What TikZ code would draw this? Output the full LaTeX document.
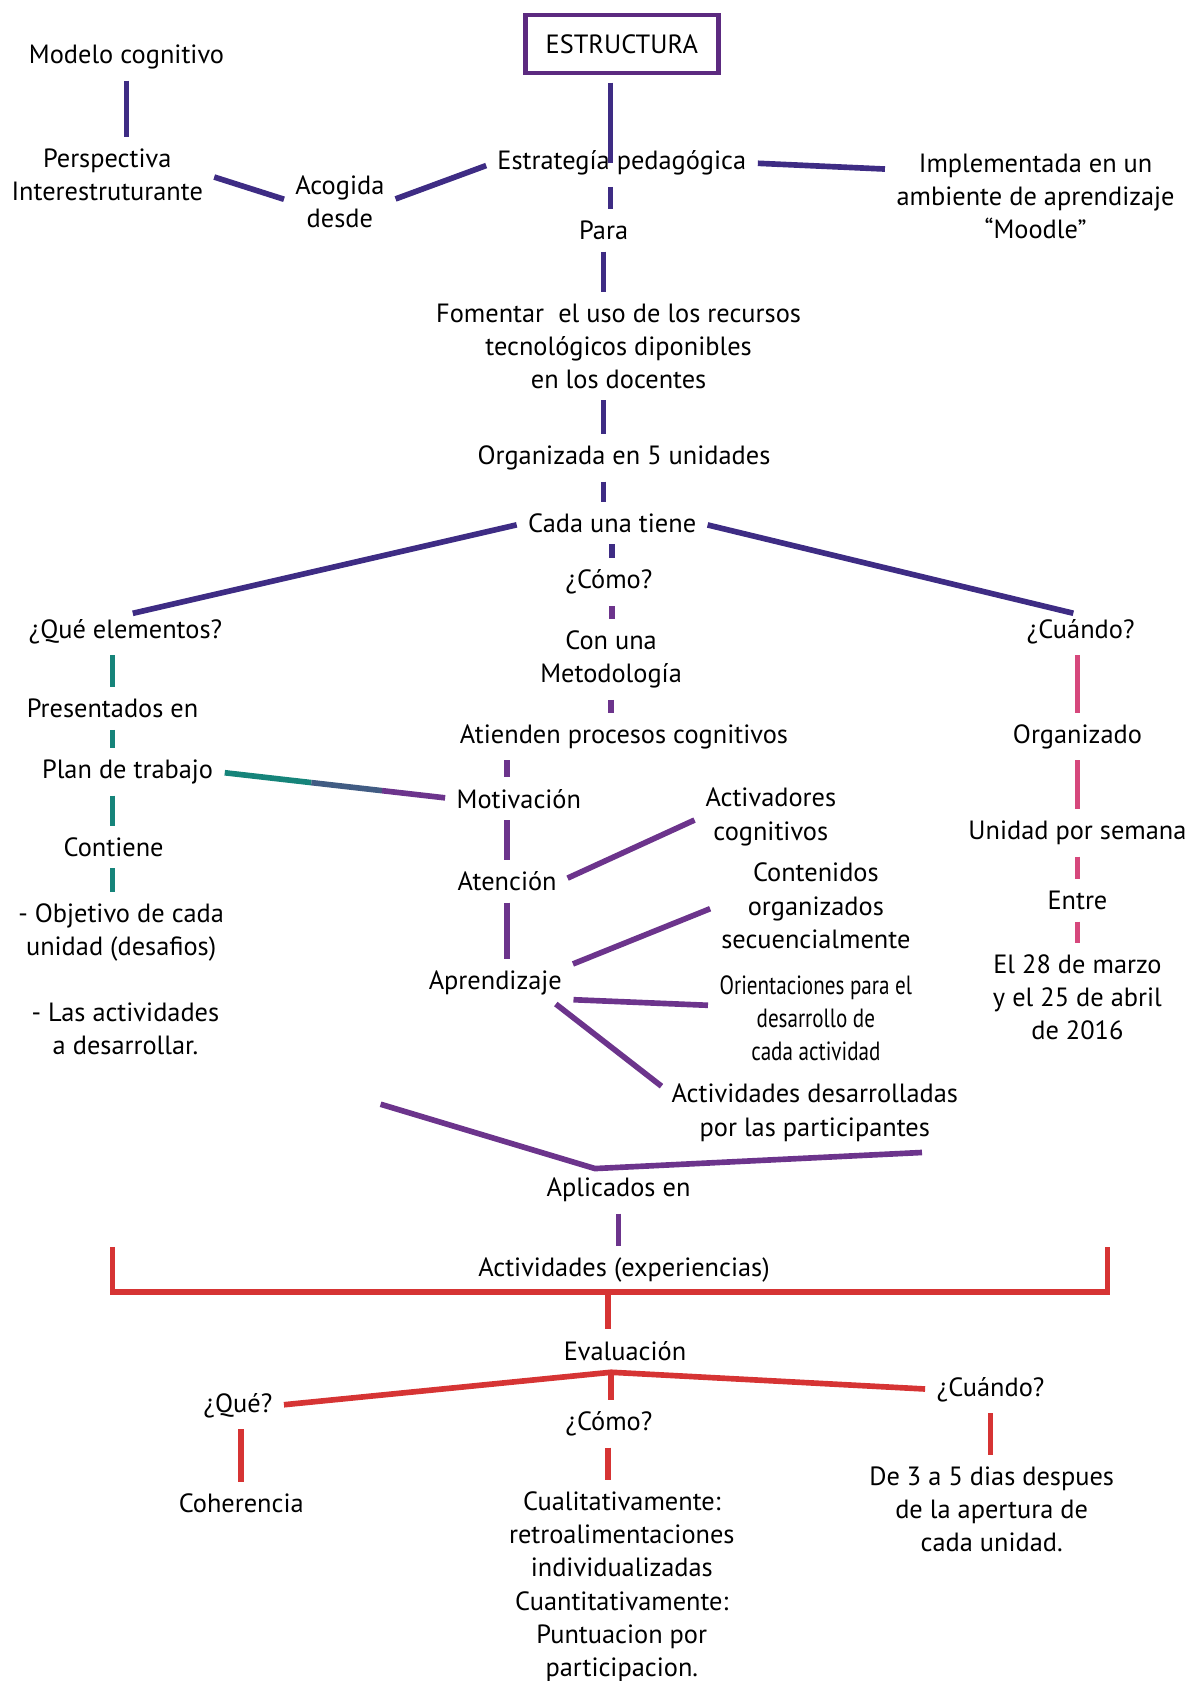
\documentclass[tikz,border=0pt]{standalone}
\usepackage{fontspec}
\setmainfont{PT Sans}
\usepackage{graphicx}
\usetikzlibrary{calc}

\definecolor{indigoln}{RGB}{62,44,132}
\definecolor{violetln}{RGB}{108,52,140}
\definecolor{tealln}{RGB}{22,132,122}
\definecolor{pinkln}{RGB}{214,72,124}
\definecolor{redln}{RGB}{214,52,52}
\definecolor{boxpurple}{RGB}{92,42,128}

\def\cond#1{\scalebox{0.8}[1]{#1}}

\begin{document}
\begin{tikzpicture}[x=0.02cm,y=-0.02cm,
			txt/.style={align=center,inner sep=2pt,font=\fontsize{14}{17.6}\selectfont},
			titlebox/.style={txt,draw=boxpurple,line width=2.4pt,minimum width=3.6cm,minimum height=1.08cm},
			ln/.style={line width=3pt,shorten <=4pt,shorten >=4pt},
			lnIndigo/.style={ln,draw=indigoln},
			lnViolet/.style={ln,draw=violetln},
			lnTeal/.style={ln,draw=tealln},
			lnPink/.style={ln,draw=pinkln},
			lnRed/.style={ln,draw=redln}]
			\useasboundingbox (0,0) rectangle (1115,1568);
			% upper part
			\node [titlebox] (estructura) at (580,41) {ESTRUCTURA};
			\node [txt] (modelo) at (118,53) {Modelo cognitivo};
			\node [txt] (perspectiva) at (100,163) {Perspectiva\\Interestruturante};
			\node [txt] (acogida) at (317,188) {Acogida\\desde};
			\node [txt] (estrategia) at (580,152) {Estrategía pedagógica};
			\node [txt] (implementada) at (966,183) {Implementada en un\\ambiente de aprendizaje\\“Moodle”};
			\node [txt] (para) at (563,215) {Para};
			\node [txt] (fomentar) at (577,323) {Fomentar\ \ el uso de los recursos\\tecnológicos diponibles\\en los docentes};
			\node [txt] (organizada) at (582,427) {Organizada en 5 unidades};
			\node [txt] (cada) at (571,488) {Cada una tiene};
			% middle column
			\node [txt] (como) at (568,543) {¿Cómo?};
			\node [txt] (conuna) at (570,615) {Con una\\Metodología};
			\node [txt] (atienden) at (582,687) {Atienden procesos cognitivos};
			\node [txt] (motivacion) at (484,745) {Motivación};
			\node [txt] (atencion) at (473,822) {Atención};
			\node [txt] (aprendizaje) at (462,917) {Aprendizaje};
			\node [txt] (activadores) at (719,762) {Activadores\\cognitivos};
			\node [txt] (contenidos) at (761,845) {Contenidos\\organizados\\secuencialmente};
			\node [txt] (orientaciones) at (761,950) {\cond{Orientaciones para el}\\\cond{desarrollo de}\\\cond{cada actividad}};
			\node [txt] (actdes) at (760,1038) {Actividades desarrolladas\\por las participantes};
			\node [txt] (aplicados) at (577,1110) {Aplicados en};
			\node [txt] (actexp) at (582,1185) {Actividades (experiencias)};
			% right column
			\node [txt] (cuando) at (1008,589) {¿Cuándo?};
			\node [txt] (organizado) at (1005,687) {Organizado};
			\node [txt] (unidad) at (1005,777) {Unidad por semana};
			\node [txt] (entre) at (1005,840) {Entre};
			\node [txt] (fechas) at (1005,930) {El 28 de marzo\\y el 25 de abril\\de 2016};
			% left column
			\node [txt] (queelem) at (117,589) {¿Qué elementos?};
			\node [txt] (presentados) at (105,661) {Presentados en};
			\node [txt] (plan) at (119,720) {Plan de trabajo};
			\node [txt] (contiene) at (106,790) {Contiene};
			\node [txt] (objetivo) at (113,870) {- Objetivo de cada\\unidad (desafios)};
			\node [txt] (lasact) at (117,960) {- Las actividades\\a desarrollar.};
			% evaluation
			\node [txt] (evaluacion) at (583,1260) {Evaluación};
			\node [txt] (que) at (222,1311) {¿Qué?};
			\node [txt] (coherencia) at (225,1402) {Coherencia};
			\node [txt] (comoev) at (568,1328) {¿Cómo?};
			\node [txt] (cualit) at (580,1480) {Cualitativamente:\\retroalimentaciones\\individualizadas\\Cuantitativamente:\\Puntuacion por\\participacion.};
			\node [txt] (cuandoev) at (924,1296) {¿Cuándo?};
			\node [txt] (dias) at (925,1408) {De 3 a 5 dias despues\\de la apertura de\\cada unidad.};
			\coordinate (vleft) at (355,1030);
			\coordinate (vtip) at (555,1090);
			\coordinate (vright) at (860,1075);
			\coordinate (brTL) at (105,1163);
			\coordinate (brTR) at (1033,1163);
			\coordinate (brBot) at (567,1205);
			\coordinate (evtip) at (570,1280);
			% connectors, upper part
			\draw [lnIndigo,shorten >=0pt] ([xshift=-6pt]estructura.south) -- ([xshift=-6pt]estructura.south |- estrategia.center);
			\draw [lnIndigo] (modelo.south) -- (modelo.south |- perspectiva.north);
			\draw [lnIndigo] (perspectiva.east) -- (acogida.west);
			\draw [lnIndigo] (acogida.east) -- (estrategia.west);
			\draw [lnIndigo] (estrategia.east) -- ($(implementada.west)+(0,-25)$);
			\draw [lnIndigo] (para.north -| estructura.south) ++(-6pt,0) coordinate (pp) (pp |- estrategia.south) -- (pp);
			\draw [lnIndigo] (para.south) -- (para.south |- fomentar.north);
			\draw [lnIndigo] (fomentar.south -| para.south) -- (para.south |- organizada.north);
			\draw [lnIndigo] (organizada.south -| para.south) -- (para.south |- cada.north);
			\draw [lnIndigo] (cada.west) -- (queelem.north);
			\draw [lnIndigo] (cada.east) -- (cuando.north);
			\draw [lnIndigo] (cada.south) -- (cada.south |- como.north);
			% middle column
			\draw [lnViolet] (como.south -| cada.south) -- (cada.south |- conuna.north);
			\draw [lnViolet] (conuna.south) -- (conuna.south |- atienden.north);
			\draw [lnViolet] (atienden.south -| atencion.north) -- (atencion.north |- motivacion.north);
			\draw [lnViolet] (motivacion.south -| atencion.north) -- (atencion.north);
			\draw [lnViolet] (atencion.south) -- (atencion.south |- aprendizaje.north);
			\draw [lnViolet] (atencion.east) -- (activadores.west);
			\draw [lnViolet] (aprendizaje.north east) -- (contenidos.west);
			\draw [lnViolet] (aprendizaje.south east) -- ($(orientaciones.west)+(0,-12)$);
			\draw [lnViolet] ($(aprendizaje.south east)+(-15,0)$) -- ($(actdes.north west)+(0,10)$);
			\draw [lnViolet,shorten <=0pt,shorten >=0pt] (vleft) -- (vtip) -- (vright);
			\draw [lnViolet] (aplicados.south) -- (aplicados.south |- actexp.north);
			% plan de trabajo to motivacion
			\path (plan.east) -- coordinate [pos=0.4] (g1) coordinate [pos=0.7] (g2) (motivacion.west);
			\draw [lnTeal,shorten >=0pt] (plan.east) -- (g1);
			\draw [ln,draw=tealln!50!violetln,shorten <=0pt,shorten >=0pt] (g1) -- (g2);
			\draw [lnViolet,shorten <=0pt] (g2) -- (motivacion.west);
			% left column
			\draw [lnTeal] (queelem.south -| presentados.north) -- (presentados.north);
			\draw [lnTeal] (presentados.south) -- (presentados.south |- plan.north);
			\draw [lnTeal] (plan.south -| presentados.south) -- (presentados.south |- contiene.north);
			\draw [lnTeal] (contiene.south -| presentados.south) -- (presentados.south |- objetivo.north);
			% right column
			\draw [lnPink] (cuando.south -| organizado.north) -- (organizado.north);
			\draw [lnPink] (organizado.south) -- (unidad.north);
			\draw [lnPink] (unidad.south) -- (entre.north);
			\draw [lnPink] (entre.south) -- (fechas.north);
			% evaluation
			\draw [lnRed,shorten <=0pt,shorten >=0pt] (brTL) |- (brBot) -| (brTR);
			\draw [lnRed,shorten <=0pt] (brBot) -- (brBot |- evaluacion.north);
			\draw [lnRed,shorten <=0pt] (evtip) -- (que.east);
			\draw [lnRed,shorten <=0pt] (evtip) -- (cuandoev.west);
			\draw [lnRed,shorten <=0pt] (evtip) -- (evtip |- comoev.north);
			\draw [lnRed] (que.south -| coherencia.north) -- (coherencia.north);
			\draw [lnRed] (comoev.south -| brBot) -- (brBot |- cualit.north);
			\draw [lnRed] (cuandoev.south) -- (cuandoev.south |- dias.north);
\end{tikzpicture}
\end{document}
